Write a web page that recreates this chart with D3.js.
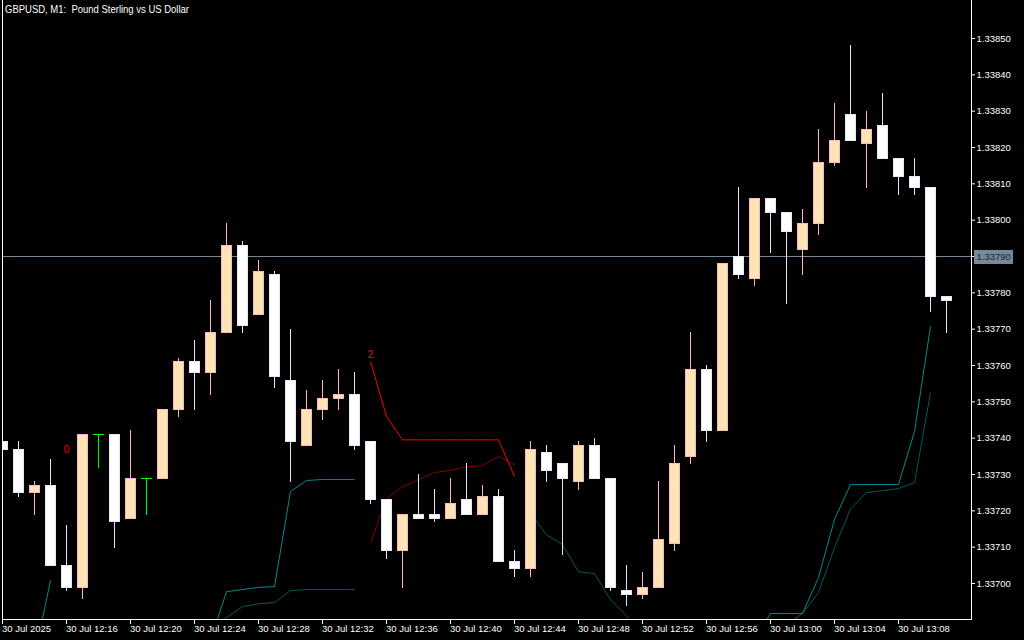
<!DOCTYPE html>
<html><head><meta charset="utf-8">
<script src="https://cdn.jsdelivr.net/npm/d3@7"></script>
<style>html,body{margin:0;padding:0;background:#000;overflow:hidden}</style>
</head><body><svg id="c" width="1024" height="640"></svg>
<script>
const title = "GBPUSD, M1:  Pound Sterling vs US Dollar";
const times = ["12:12","12:13","12:14","12:15","12:16","12:17","12:18","12:19","12:20","12:21","12:22","12:23","12:24","12:25","12:26","12:27","12:28","12:29","12:30","12:31","12:32","12:33","12:34","12:35","12:36","12:37","12:38","12:39","12:40","12:41","12:42","12:43","12:44","12:45","12:46","12:47","12:48","12:49","12:50","12:51","12:52","12:53","12:54","12:55","12:56","12:57","12:58","12:59","13:00","13:01","13:02","13:03","13:04","13:05","13:06","13:07","13:08","13:09","13:10","13:11"];
const open = [1.33739,1.33737,1.33725,1.33727,1.33705,1.33699,1.33741,1.33741,1.33718,1.33729,1.33729,1.33748,1.33761,1.33758,1.33769,1.33793,1.33774,1.33785,1.33756,1.33738,1.33748,1.33751,1.33752,1.33739,1.33723,1.33709,1.33719,1.33719,1.33718,1.33723,1.33719,1.33724,1.33706,1.33704,1.33736,1.33733,1.33728,1.33738,1.33729,1.33698,1.33697,1.33699,1.33711,1.33735,1.33759,1.33742,1.33790,1.33784,1.33806,1.33802,1.33792,1.33799,1.33816,1.33829,1.33821,1.33826,1.33817,1.33812,1.33809,1.33779];
const high = [1.33740,1.33739,1.33728,1.33734,1.33716,1.33741,1.33741,1.33741,1.33742,1.33729,1.33748,1.33762,1.33767,1.33778,1.33799,1.33794,1.33789,1.33786,1.33770,1.33753,1.33756,1.33759,1.33758,1.33739,1.33723,1.33719,1.33730,1.33726,1.33729,1.33733,1.33727,1.33726,1.33709,1.33739,1.33738,1.33733,1.33739,1.33740,1.33729,1.33705,1.33703,1.33728,1.33738,1.33769,1.33760,1.33788,1.33809,1.33806,1.33806,1.33802,1.33803,1.33825,1.33832,1.33848,1.33830,1.33835,1.33817,1.33817,1.33809,1.33779];
const low = [1.33737,1.33724,1.33719,1.33705,1.33698,1.33696,1.33732,1.33710,1.33718,1.33719,1.33729,1.33746,1.33748,1.33752,1.33769,1.33769,1.33774,1.33754,1.33728,1.33738,1.33745,1.33748,1.33737,1.33722,1.33707,1.33699,1.33718,1.33717,1.33718,1.33719,1.33719,1.33706,1.33702,1.33702,1.33728,1.33708,1.33726,1.33729,1.33698,1.33694,1.33696,1.33699,1.33709,1.33733,1.33739,1.33742,1.33784,1.33782,1.33791,1.33777,1.33785,1.33796,1.33815,1.33822,1.33809,1.33817,1.33807,1.33807,1.33775,1.33769];
const close = [1.33737,1.33725,1.33727,1.33705,1.33699,1.33741,1.33741,1.33717,1.33729,1.33729,1.33748,1.33761,1.33758,1.33769,1.33793,1.33771,1.33786,1.33757,1.33739,1.33748,1.33751,1.33752,1.33738,1.33723,1.33709,1.33719,1.33718,1.33718,1.33722,1.33719,1.33724,1.33706,1.33704,1.33737,1.33731,1.33729,1.33738,1.33729,1.33699,1.33697,1.33699,1.33712,1.33733,1.33759,1.33742,1.33788,1.33785,1.33806,1.33802,1.33797,1.33799,1.33816,1.33822,1.33822,1.33825,1.33817,1.33812,1.33809,1.33779,1.33778];

const N = null;
const redUpper = [N,N,N,N,N,N,N,N,N,N,N,N,N,N,N,N,N,N,N,N,N,N,N,1.33761,1.337458,1.337394,1.337394,1.337394,1.337394,1.337394,1.337394,1.337394,1.337293,N,N,N,N,N,N,N,N,N,N,N,N,N,N,N,N,N,N,N,N,N,N,N,N,N,N,N];
const redLower = [N,N,N,N,N,N,N,N,N,N,N,N,N,N,N,N,N,N,N,N,N,N,N,1.337111,1.337232,1.337265,1.337284,1.337304,1.33731,1.33732,1.337323,1.337348,1.337326,N,N,N,N,N,N,N,N,N,N,N,N,N,N,N,N,N,N,N,N,N,N,N,N,N,N,N];
const tealUpper = [N,N,1.336797,1.337007,N,N,N,N,N,N,N,N,N,1.336844,1.336976,1.336982,1.336988,1.33699,1.337252,1.337282,1.337285,1.337285,1.337285,N,N,N,N,N,N,N,N,N,N,N,N,N,N,N,N,N,N,N,N,N,N,N,N,1.336842,1.336916,1.336916,1.336916,1.337015,1.337175,1.337271,1.337271,1.337271,1.337271,1.337417,1.337706,N];
const tealLower = [N,N,N,N,N,N,N,N,N,N,N,N,N,1.336872,1.336905,1.336935,1.336943,1.336946,1.336979,1.336982,1.336982,1.336982,1.336982,N,N,N,N,N,N,N,N,N,N,1.337191,1.337133,1.337106,1.337031,1.337026,1.336954,1.33691,1.336844,N,N,N,N,N,N,N,N,1.336885,1.336916,1.336974,1.337097,1.337204,1.337249,1.337254,1.33726,1.337276,1.337524,N];
const marks = [{t:"12:16", p:1.33737, label:"0"}, {t:"12:35", p:1.33763, label:"2"}];
const priceLine = 1.33790;

const xTickTimes = ["12:12","12:16","12:20","12:24","12:28","12:32","12:36","12:40","12:44","12:48","12:52","12:56","13:00","13:04","13:08"];
const xTickLabels = ["30 Jul 2025","30 Jul 12:16","30 Jul 12:20","30 Jul 12:24","30 Jul 12:28","30 Jul 12:32","30 Jul 12:36","30 Jul 12:40","30 Jul 12:44","30 Jul 12:48","30 Jul 12:52","30 Jul 12:56","30 Jul 13:00","30 Jul 13:04","30 Jul 13:08"];
const yTicks = [1.33700,1.33710,1.33720,1.33730,1.33740,1.33750,1.33760,1.33770,1.33780,1.33790,1.33800,1.33810,1.33820,1.33830,1.33840,1.33850];

const parse = d3.timeParse("%H:%M");
const svg = d3.select("#c");
svg.append("rect").attr("width",1024).attr("height",640).attr("fill","#000");

const x = d3.scaleTime().domain([parse("12:12"), parse("13:12")]).range([2, 962]);
const y = d3.scaleLinear().domain([1.337, 1.3385]).range([583, 38]);
const cx = i => Math.round(x(parse(times[i])));
const py = v => Math.round(y(v));

const defs = svg.append("defs");
defs.append("clipPath").attr("id","plot").append("rect").attr("x",3).attr("y",3).attr("width",968).attr("height",616);
const plot = svg.append("g").attr("clip-path","url(#plot)");

// price line
plot.append("line").attr("x1",3).attr("x2",971).attr("y1",py(priceLine)+0.5).attr("y2",py(priceLine)+0.5)
  .attr("stroke","#778899").attr("stroke-width",1);

// indicator lines
function drawLine(arr, color) {
  const gen = d3.line().defined(d => d != null).x((d,i) => cx(i)+0.5).y(d => y(d));
  plot.append("path").datum(arr).attr("d", gen).attr("fill","none").attr("stroke",color).attr("stroke-width",1);
}
drawLine(tealLower, "#005a5a");
drawLine(tealUpper, "#008b8b");
drawLine(redLower, "#800000");
drawLine(redUpper, "#ff0000");

// candles
const bullFill = "#ffe4b5", bullLine = "#ffb6c1", bearFill = "#ffffff", bearLine = "#e6e6fa", dojiColor = "#00ff00";
const cg = plot.append("g");
times.forEach((t, i) => {
  const c = cx(i);
  const o = open[i], h = high[i], l = low[i], cl = close[i];
  const yo = py(o), yc = py(cl), yh = py(h), yl = py(l);
  if (yo === yc) {
    cg.append("line").attr("x1",c+0.5).attr("x2",c+0.5).attr("y1",yh).attr("y2",yl+1).attr("stroke",dojiColor);
    cg.append("line").attr("x1",c-5).attr("x2",c+6).attr("y1",yo+0.5).attr("y2",yo+0.5).attr("stroke",dojiColor);
    return;
  }
  const bull = cl > o;
  const top = Math.min(yo,yc), bot = Math.max(yo,yc);
  cg.append("line").attr("x1",c+0.5).attr("x2",c+0.5).attr("y1",yh).attr("y2",yl+1)
    .attr("stroke", bull ? bullLine : bearLine);
  cg.append("rect").attr("x",c-5+0.5).attr("y",top+0.5).attr("width",10).attr("height",bot-top)
    .attr("fill", bull ? bullFill : bearFill).attr("stroke", bull ? bullLine : bearLine).attr("stroke-width",1);
});

// text marks
plot.selectAll("text.mark").data(marks).enter().append("text").attr("class","mark")
  .attr("x", d => Math.round(x(parse(d.t)))+0.5).attr("y", d => py(d.p))
  .attr("text-anchor","middle").attr("dy","0.35em")
  .attr("fill","#ff0000").attr("font-family","Liberation Sans, Arial, sans-serif").attr("font-size",10)
  .text(d => d.label);

// frame
const frame = svg.append("g").attr("stroke","#ffffff").attr("stroke-width",1);
frame.append("line").attr("x1",2.5).attr("x2",2.5).attr("y1",0).attr("y2",620);
frame.append("line").attr("x1",971.5).attr("x2",971.5).attr("y1",0).attr("y2",620);
frame.append("line").attr("x1",2).attr("x2",972).attr("y1",619.5).attr("y2",619.5);

// axes
const fontFam = "Liberation Sans, Arial, sans-serif";
const xAxis = d3.axisBottom(x).tickValues(xTickTimes.map(parse)).tickSize(5)
  .tickFormat((d,i) => xTickLabels[i]);
const gx = svg.append("g").attr("transform","translate(0,619)").call(xAxis);
gx.select(".domain").remove();
gx.selectAll(".tick line").attr("stroke","#fff");
gx.selectAll(".tick text").attr("fill","#fff").attr("text-anchor","start").attr("x",-0.5).attr("y",6)
  .attr("font-family",fontFam).attr("font-size",9.5);

const yAxis = d3.axisRight(y).tickValues(yTicks).tickSize(4).tickFormat(d3.format(".5f"));
const gy = svg.append("g").attr("transform","translate(971,0)").call(yAxis);
gy.select(".domain").remove();
gy.selectAll(".tick line").attr("stroke","#fff");
gy.selectAll(".tick text").attr("fill","#fff").attr("x",5.5)
  .attr("font-family",fontFam).attr("font-size",9.5);

// price label
const pl = py(priceLine);
svg.append("rect").attr("x",974).attr("y",pl-6).attr("width",39).attr("height",14).attr("fill","#778899");
svg.append("text").attr("x",976.5).attr("y",pl+0.5).attr("dy","0.35em").attr("fill","#1b2430")
  .attr("font-family",fontFam).attr("font-size",9.5).text(d3.format(".5f")(priceLine));

// title
svg.append("text").attr("x",5).attr("y",13).attr("fill","#fff").attr("font-family",fontFam)
  .attr("font-size",11).style("white-space","pre").attr("textLength",184).attr("lengthAdjust","spacingAndGlyphs")
  .text(title);
</script></body></html>
